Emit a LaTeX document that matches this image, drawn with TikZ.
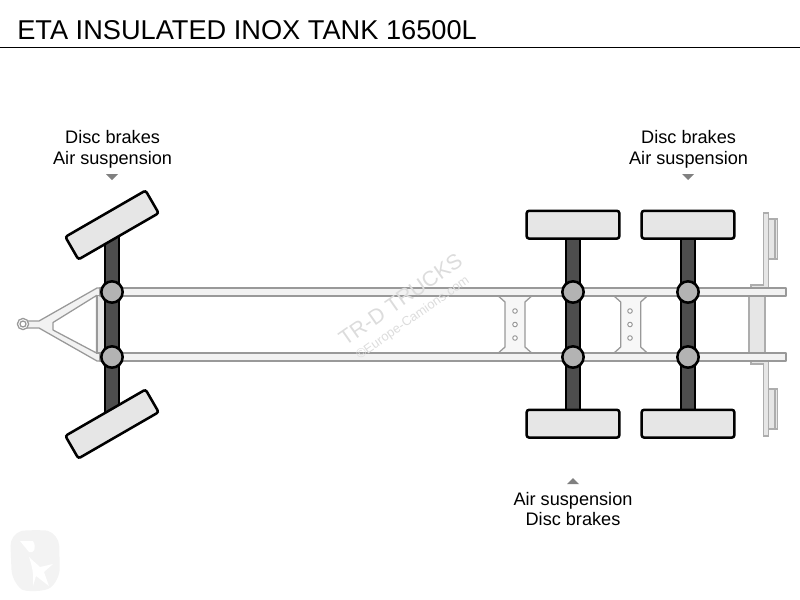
\documentclass[tikz,border=0pt]{standalone}
\usepackage{fontspec}
\setmainfont{Liberation Sans}
\usetikzlibrary{backgrounds}
\definecolor{wheelfill}{HTML}{E6E6E6}
\definecolor{axlefill}{HTML}{4D4D4D}
\definecolor{hubfill}{HTML}{B3B3B3}
\definecolor{framefill}{HTML}{F2F2F2}
\definecolor{frameline}{HTML}{999999}
\definecolor{markgrey}{HTML}{808080}
\definecolor{wmark}{HTML}{DCDCDC}
\definecolor{logofill}{HTML}{F3F3F3}
\tikzset{
  x=0.75pt,y=-0.75pt,
  wheelbox/.style={draw=black,fill=wheelfill,line width=1.9pt,rounded corners=1.8pt,inner sep=0pt,minimum width=#1},
  wheelbox/.default={69.5pt},
  hub/.style={circle,draw=black,fill=hubfill,line width=1.9pt,inner sep=0pt,minimum size=16pt},
  axle/.style={draw=black,line width=1.5pt,double=axlefill,double distance=8.4pt},
  frameshape/.style={draw=frameline,fill=framefill,line width=0.95pt,line join=round},
  lightshape/.style={draw=frameline!80,fill=wheelfill,line width=0.95pt},
  hole/.style={circle,draw=frameline,fill=white,line width=0.75pt,inner sep=0pt,minimum size=3.4pt},
  caption/.style={font=\fontsize{13.6pt}{15.7pt}\selectfont,align=center,inner sep=0pt,text=black},
  tick/.style={fill=markgrey},
}
\begin{document}
\begin{tikzpicture}
\useasboundingbox (0,0) rectangle (800,600);

% title
\node[anchor=base west,inner sep=0pt,font=\fontsize{20.4pt}{24pt}\selectfont] (title) at (17,39) {ETA INSULATED INOX TANK 16500L};
\coordinate (ruleL) at (0,47); \coordinate (ruleR) at (800,47);
\draw[black,line width=0.75pt] (ruleL) -- (ruleR);

% logo
\fill[logofill,rounded corners=9pt] (10,534) .. controls (25,530) and (45,530) .. (59,534) -- (60,580) .. controls (45,592) and (25,592) .. (12,582) -- cycle;
\fill[white] (20,541) -- (33,541) .. controls (37,548) and (34,554) .. (29,552) -- cycle;
\fill[white] (29,557) -- (40,567) -- (53,564) -- (44,572) -- (49,586) -- (36,576) -- (33,586) .. controls (34,574) and (32,566) .. (29,557) -- cycle;

% hubs and wheels
\node[wheelbox] (wFT) at (112,225) [rotate=30,minimum height=19.6pt] {};
\node[wheelbox] (wFB) at (112,424) [rotate=30,minimum height=19.6pt] {};
\node[wheelbox,minimum height=20.8pt] (wMT) at (573,224.7) {};
\node[wheelbox,minimum height=20.8pt] (wMB) at (573,423.7) {};
\node[wheelbox,minimum height=20.8pt] (wRT) at (688,224.7) {};
\node[wheelbox,minimum height=20.8pt] (wRB) at (688,423.7) {};
\node[hub] (hFT) at (112,292) {};
\node[hub] (hFB) at (112,357) {};
\node[hub] (hMT) at (573,292) {};
\node[hub] (hMB) at (573,357) {};
\node[hub] (hRT) at (688,292) {};
\node[hub] (hRB) at (688,357) {};

\begin{scope}[on background layer]
  % lights and brackets
  \draw[lightshape] (768,219) rectangle (777.5,259);
  \draw[lightshape] (775,219) -- (775,259);
  \draw[lightshape] (768,389) rectangle (777.5,429);
  \draw[lightshape] (775,389) -- (775,429);
  \draw[lightshape] (763.5,213) -- (768.5,213) -- (768.5,288) -- (751,288) -- (751,285) -- (763.5,285) -- cycle;
  \draw[lightshape] (763.5,436) -- (768.5,436) -- (768.5,361) -- (751,361) -- (751,364) -- (763.5,364) -- cycle;
  % rear cross beam
  \draw[lightshape] (749,296) rectangle (765,353);
  % cross members
  \draw[draw=none,fill=framefill!60] (498.3,296) -- (505,302) -- (505,347) -- (498.3,353) -- (531.7,353) -- (525,347) -- (525,302) -- (531.7,296) -- cycle;
  \draw[frameshape,fill=none] (498.3,296) -- (505,302) -- (505,347) -- (498.3,353);
  \draw[frameshape,fill=none] (531.7,296) -- (525,302) -- (525,347) -- (531.7,353);
  \draw[draw=none,fill=framefill!60] (614,296) -- (620.7,302) -- (620.7,347) -- (614,353) -- (647.3,353) -- (640.7,347) -- (640.7,302) -- (647.3,296) -- cycle;
  \draw[frameshape,fill=none] (614,296) -- (620.7,302) -- (620.7,347) -- (614,353);
  \draw[frameshape,fill=none] (647.3,296) -- (640.7,302) -- (640.7,347) -- (647.3,353);
  % drawbar
  \draw[frameshape,even odd rule]
    (26,321) -- (39,321) -- (97,288) -- (106,288) -- (106,361) -- (97,361) -- (39,328) -- (26,328) -- cycle
    (53,322.5) -- (53,330) -- (96.5,353) -- (96.5,295.5) -- cycle;
  \draw[frameline,fill=wheelfill,line width=0.95pt] (97,295.5) rectangle (106,353);
  % rails
  \draw[frameshape] (100,288) rectangle (786,296);
  \draw[frameshape] (100,353) rectangle (786,361);
  \draw[draw=frameline,fill=white,line width=0.95pt] (23,324) circle (5.6);
  \draw[draw=frameline,fill=white,line width=0.95pt] (23,324) circle (3);
  % axles
  \draw[axle] (wFT.center) -- (wFB.center);
  \draw[axle] (wMT.center) -- (wMB.center);
  \draw[axle] (wRT.center) -- (wRB.center);
\end{scope}

% cross member holes
\node[hole] (h1) at (515,311) {};
\node[hole] (h2) at (515,324.5) {};
\node[hole] (h3) at (515,338) {};
\node[hole] (h4) at (630,311) {};
\node[hole] (h5) at (630,324.5) {};
\node[hole] (h6) at (630,338) {};

% watermark
\node[rotate=35,text=wmark,inner sep=0pt,font=\fontsize{16pt}{18pt}\selectfont] (wm1) at (400.5,299.5) {TR-D TRUCKS};
\node[rotate=35,text=wmark,inner sep=0pt,font=\fontsize{9.7pt}{11pt}\selectfont] (wm2) at (413,318.5) {©Europe-Camions.com};

% captions
\node[caption] (cL) at (112.6,149) {Disc brakes\\Air suspension};
\node[caption] (cR) at (688.6,149) {Disc brakes\\Air suspension};
\node[caption] (cB) at (573,509) {Air suspension\\Disc brakes};
\fill[tick] (106,174) -- (118,174) -- (112,180) -- cycle;
\fill[tick] (682,174) -- (694,174) -- (688,180) -- cycle;
\fill[tick] (567,484) -- (579,484) -- (573,478) -- cycle;
\end{tikzpicture}
\end{document}
